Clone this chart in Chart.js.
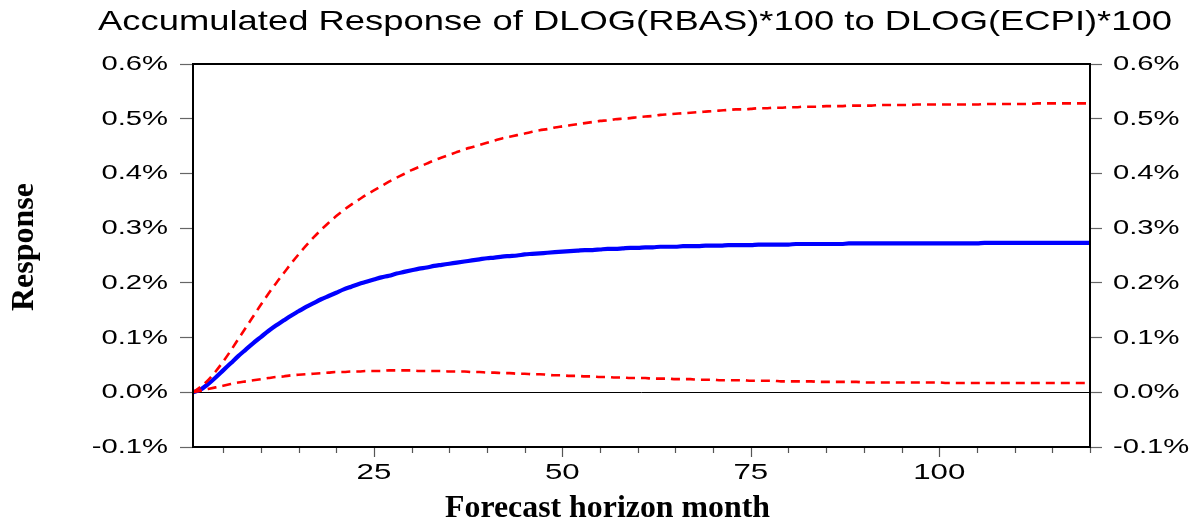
<!DOCTYPE html>
<html>
<head>
<meta charset="utf-8">
<script src="https://cdn.jsdelivr.net/npm/chart.js@4.4.1/dist/chart.umd.min.js"></script>
<style>
  html, body { margin: 0; padding: 0; background: #fff; }
  #wrap { width: 1195px; height: 519px; }
</style>
</head>
<body>
<div id="wrap"><canvas id="c" width="1195" height="519"></canvas></div>
<script>
// Forecast horizon (months)
const months = [
  1,2,3,4,5,6,7,8,9,10,11,12,13,14,15,16,17,18,19,20,
  21,22,23,24,25,26,27,28,29,30,31,32,33,34,35,36,37,38,39,40,
  41,42,43,44,45,46,47,48,49,50,51,52,53,54,55,56,57,58,59,60,
  61,62,63,64,65,66,67,68,69,70,71,72,73,74,75,76,77,78,79,80,
  81,82,83,84,85,86,87,88,89,90,91,92,93,94,95,96,97,98,99,100,
  101,102,103,104,105,106,107,108,109,110,111,112,113,114,115,116,117,118,119,120
];

// Accumulated response (%)
const response = [
  0.000,0.005,0.015,0.027,0.040,0.053,0.066,0.078,0.090,0.101,
  0.112,0.122,0.131,0.140,0.148,0.156,0.163,0.170,0.176,0.182,
  0.188,0.193,0.198,0.202,0.206,0.210,0.213,0.217,0.220,0.223,
  0.226,0.228,0.231,0.233,0.235,0.237,0.239,0.241,0.243,0.245,
  0.246,0.248,0.249,0.250,0.252,0.253,0.254,0.255,0.256,0.257,
  0.258,0.259,0.260,0.260,0.261,0.262,0.262,0.263,0.264,0.264,
  0.265,0.265,0.266,0.266,0.266,0.267,0.267,0.267,0.268,0.268,
  0.268,0.269,0.269,0.269,0.269,0.270,0.270,0.270,0.270,0.270,
  0.271,0.271,0.271,0.271,0.271,0.271,0.271,0.272,0.272,0.272,
  0.272,0.272,0.272,0.272,0.272,0.272,0.272,0.272,0.272,0.272,
  0.272,0.272,0.272,0.272,0.272,0.273,0.273,0.273,0.273,0.273,
  0.273,0.273,0.273,0.273,0.273,0.273,0.273,0.273,0.273,0.273
];

// Upper confidence band (%)
const upperBand = [
  0.000,0.010,0.022,0.038,0.056,0.076,0.097,0.118,0.139,0.160,
  0.180,0.199,0.217,0.235,0.252,0.268,0.283,0.297,0.310,0.322,
  0.333,0.343,0.352,0.361,0.369,0.377,0.385,0.392,0.399,0.406,
  0.412,0.418,0.424,0.429,0.434,0.439,0.444,0.448,0.452,0.456,
  0.460,0.464,0.467,0.470,0.473,0.476,0.479,0.481,0.484,0.486,
  0.488,0.490,0.492,0.494,0.496,0.497,0.499,0.500,0.501,0.503,
  0.504,0.505,0.507,0.508,0.509,0.510,0.511,0.512,0.513,0.514,
  0.515,0.516,0.517,0.517,0.518,0.519,0.519,0.520,0.520,0.521,
  0.521,0.522,0.522,0.522,0.523,0.523,0.523,0.524,0.524,0.524,
  0.524,0.525,0.525,0.525,0.525,0.525,0.526,0.526,0.526,0.526,
  0.526,0.526,0.526,0.526,0.526,0.527,0.527,0.527,0.527,0.527,
  0.527,0.527,0.528,0.528,0.528,0.528,0.528,0.528,0.528,0.528
];

// Lower confidence band (%)
const lowerBand = [
  0.000,0.003,0.006,0.009,0.012,0.015,0.018,0.020,0.022,0.024,
  0.026,0.028,0.029,0.031,0.032,0.033,0.034,0.035,0.036,0.037,
  0.037,0.038,0.038,0.039,0.039,0.039,0.040,0.040,0.040,0.040,
  0.039,0.039,0.039,0.039,0.038,0.038,0.038,0.037,0.037,0.036,
  0.036,0.035,0.035,0.034,0.034,0.033,0.033,0.032,0.031,0.031,
  0.030,0.030,0.029,0.029,0.028,0.028,0.027,0.027,0.026,0.026,
  0.026,0.025,0.025,0.025,0.024,0.024,0.024,0.023,0.023,0.023,
  0.022,0.022,0.022,0.022,0.021,0.021,0.021,0.021,0.020,0.020,
  0.020,0.020,0.020,0.019,0.019,0.019,0.019,0.019,0.019,0.018,
  0.018,0.018,0.018,0.018,0.018,0.018,0.018,0.018,0.018,0.018,
  0.017,0.017,0.017,0.017,0.017,0.017,0.017,0.017,0.017,0.017,
  0.017,0.017,0.017,0.017,0.017,0.017,0.017,0.017,0.017,0.017
];

const yTickValues = [-0.1, 0.0, 0.1, 0.2, 0.3, 0.4, 0.5, 0.6];
const xLabelValues = [25, 50, 75, 100];

const titleText = 'Accumulated Response of DLOG(RBAS)*100 to DLOG(ECPI)*100';
const xTitleText = 'Forecast horizon month';
const yTitleText = 'Response';

const toPoints = arr => months.map((m, i) => ({ x: m, y: arr[i] }));

const SANS = '"Liberation Sans", Arial, sans-serif';
const SERIF = '"Liberation Serif", "Times New Roman", serif';

// Draws text widened horizontally by a factor
function wideText(ctx, text, x, y, font, sx, align) {
  ctx.save();
  ctx.font = font;
  ctx.translate(x, y);
  ctx.scale(sx, 1);
  ctx.textAlign = align;
  ctx.textBaseline = 'alphabetic';
  ctx.fillText(text, 0, 0);
  ctx.restore();
}
function fitText(ctx, text, x, y, font, width, align) {
  ctx.save();
  ctx.font = font;
  const w = ctx.measureText(text).width;
  ctx.restore();
  wideText(ctx, text, x, y, font, width / w, align);
}

const decor = {
  id: 'decor',
  afterDraw(chart) {
    const ctx = chart.ctx;
    const a = chart.chartArea;
    const xs = chart.scales.x;
    const yl = chart.scales.y;
    const yr = chart.scales.y2;

    // x-axis tick marks: long at labelled months, short every 5
    ctx.save();
    ctx.strokeStyle = '#555';
    ctx.lineWidth = 1.2;
    for (let m = 5; m <= 120; m += 5) {
      const px = Math.round(xs.getPixelForValue(m)) + 0.5;
      const len = (m % 25 === 0) ? 10 : 6;
      ctx.beginPath();
      ctx.moveTo(px, a.bottom);
      ctx.lineTo(px, a.bottom + len);
      ctx.stroke();
    }
    ctx.restore();

    // plot frame
    ctx.save();
    ctx.strokeStyle = '#000';
    ctx.lineWidth = 2;
    ctx.strokeRect(a.left, a.top, a.right - a.left, a.bottom - a.top);
    ctx.restore();

    ctx.fillStyle = '#000';
    // y tick labels on both sides
    yTickValues.forEach(v => {
      const label = v.toFixed(1) + '%';
      wideText(ctx, label, a.left - 25, yl.getPixelForValue(v) + 6, '20px ' + SANS, 1.46, 'right');
      wideText(ctx, label, a.right + 23, yr.getPixelForValue(v) + 6, '20px ' + SANS, 1.46, 'left');
    });
    // x tick labels
    xLabelValues.forEach(v => {
      wideText(ctx, String(v), xs.getPixelForValue(v), 479, '22px ' + SANS, 1.42, 'center');
    });

    // chart title
    fitText(ctx, titleText, 98, 29.5, '28px ' + SANS, 1074, 'left');
    // x axis title
    fitText(ctx, xTitleText, 445, 517, 'bold 31px ' + SERIF, 325, 'left');
    // y axis title (rotated)
    ctx.save();
    ctx.translate(33, 247);
    ctx.rotate(-Math.PI / 2);
    fitText(ctx, yTitleText, 0, 0, 'bold 31px ' + SERIF, 128, 'center');
    ctx.restore();
  }
};

new Chart(document.getElementById('c'), {
  type: 'line',
  data: {
    datasets: [
      {
        label: 'Response',
        data: toPoints(response),
        borderColor: '#0000ff',
        borderWidth: 4.2,
        pointRadius: 0,
        cubicInterpolationMode: 'monotone',
        fill: false,
        order: 2
      },
      {
        label: 'Upper band',
        data: toPoints(upperBand),
        borderColor: '#ff0000',
        borderWidth: 2.6,
        borderDash: [9, 6],
        pointRadius: 0,
        cubicInterpolationMode: 'monotone',
        fill: false,
        order: 1
      },
      {
        label: 'Lower band',
        data: toPoints(lowerBand),
        borderColor: '#ff0000',
        borderWidth: 2.6,
        borderDash: [9, 6],
        pointRadius: 0,
        cubicInterpolationMode: 'monotone',
        fill: false,
        order: 1
      }
    ]
  },
  options: {
    responsive: false,
    animation: false,
    devicePixelRatio: 1,
    layout: { padding: { top: 64, left: 0, right: 0, bottom: 0 } },
    plugins: {
      legend: { display: false },
      title: { display: false },
      tooltip: { enabled: false }
    },
    scales: {
      x: {
        type: 'linear',
        min: 1,
        max: 120,
        ticks: { display: false, stepSize: 5 },
        grid: { display: false },
        border: { display: false },
        afterFit(scale) { scale.height = 72; }
      },
      y: {
        position: 'left',
        min: -0.1,
        max: 0.6,
        ticks: { display: false, stepSize: 0.1 },
        grid: {
          drawOnChartArea: true,
          drawTicks: true,
          tickLength: 13,
          tickColor: '#666',
          tickWidth: 1.2,
          lineWidth: 1,
          color: c => (Math.abs(c.tick.value) < 1e-9 ? '#000' : 'rgba(0,0,0,0)')
        },
        border: { display: false },
        afterFit(scale) { scale.width = 193; }
      },
      y2: {
        position: 'right',
        min: -0.1,
        max: 0.6,
        ticks: { display: false, stepSize: 0.1 },
        grid: {
          drawOnChartArea: false,
          drawTicks: true,
          tickLength: 12,
          tickColor: '#666',
          tickWidth: 1.2
        },
        border: { display: false },
        afterFit(scale) { scale.width = 105; }
      }
    }
  },
  plugins: [decor]
});
</script>
</body>
</html>
